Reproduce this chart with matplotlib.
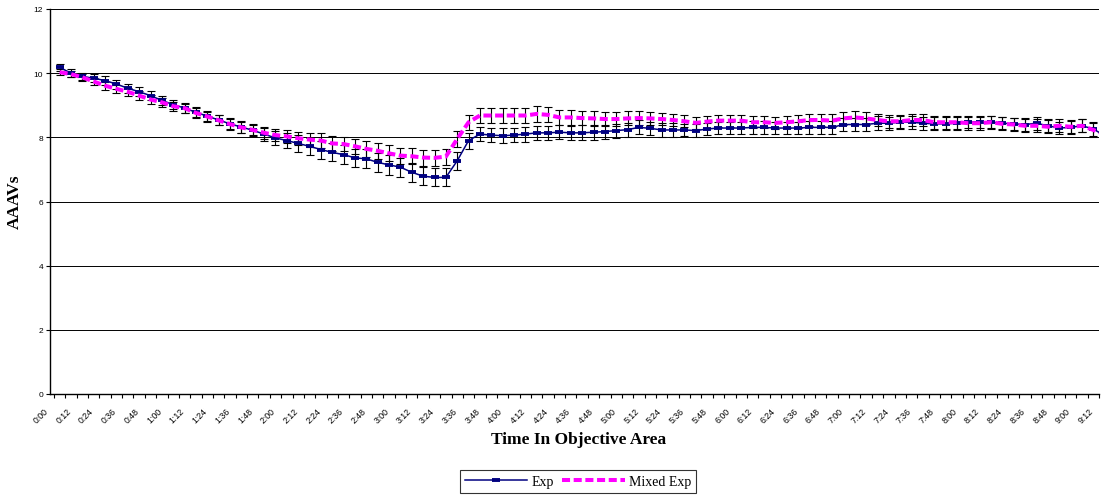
import matplotlib.pyplot as plt
import numpy as np

# AAAVs per 6-second step, 0:00 .. 9:12
exp = [10.18, 10.00, 9.90, 9.84, 9.77, 9.66, 9.53, 9.42, 9.30, 9.15,
       9.02, 8.91, 8.78, 8.66, 8.54, 8.42, 8.32, 8.22, 8.10, 7.98,
       7.90, 7.81, 7.72, 7.62, 7.53, 7.46, 7.36, 7.33, 7.22, 7.14,
       7.07, 6.91, 6.79, 6.75, 6.75, 7.27, 7.90, 8.10, 8.07, 8.05,
       8.07, 8.10, 8.14, 8.14, 8.16, 8.14, 8.14, 8.16, 8.18, 8.21,
       8.24, 8.31, 8.28, 8.23, 8.23, 8.23, 8.21, 8.26, 8.29, 8.29,
       8.29, 8.31, 8.31, 8.29, 8.29, 8.29, 8.31, 8.31, 8.31, 8.40,
       8.40, 8.40, 8.44, 8.44, 8.47, 8.47, 8.44, 8.42, 8.42, 8.44,
       8.47, 8.49, 8.47, 8.44, 8.42, 8.40, 8.44, 8.36, 8.29, 8.31,
       8.36, 8.26, 8.05]

mixed = [10.03, 9.97, 9.87, 9.74, 9.61, 9.51, 9.42, 9.30, 9.18, 9.09,
         8.97, 8.91, 8.76, 8.65, 8.53, 8.41, 8.31, 8.23, 8.14, 8.07,
         8.03, 7.97, 7.93, 7.90, 7.81, 7.79, 7.72, 7.64, 7.58, 7.50,
         7.43, 7.41, 7.37, 7.36, 7.40, 7.95, 8.47, 8.68, 8.68, 8.68,
         8.68, 8.68, 8.73, 8.70, 8.62, 8.62, 8.60, 8.59, 8.57, 8.57,
         8.59, 8.60, 8.59, 8.57, 8.54, 8.50, 8.45, 8.49, 8.52, 8.52,
         8.52, 8.47, 8.47, 8.45, 8.47, 8.50, 8.54, 8.54, 8.52, 8.59,
         8.62, 8.59, 8.54, 8.50, 8.50, 8.54, 8.54, 8.47, 8.47, 8.47,
         8.44, 8.44, 8.47, 8.42, 8.40, 8.36, 8.36, 8.33, 8.36, 8.33,
         8.36, 8.23, 8.10]

exp_err = [0.12, 0.12, 0.12, 0.13, 0.13, 0.14, 0.14, 0.14, 0.15, 0.15,
           0.15, 0.16, 0.16, 0.17, 0.17, 0.18, 0.18, 0.19, 0.20, 0.22,
           0.24, 0.26, 0.27, 0.28, 0.28, 0.29, 0.29, 0.30, 0.30, 0.30,
           0.30, 0.29, 0.28, 0.28, 0.28, 0.28, 0.25, 0.22, 0.22, 0.23,
           0.23, 0.23, 0.22, 0.22, 0.22, 0.22, 0.23, 0.23, 0.22, 0.22,
           0.22, 0.22, 0.21, 0.21, 0.21, 0.20, 0.20, 0.20, 0.20, 0.20,
           0.20, 0.20, 0.20, 0.20, 0.20, 0.20, 0.20, 0.20, 0.21, 0.21,
           0.21, 0.21, 0.21, 0.20, 0.20, 0.20, 0.20, 0.20, 0.20, 0.20,
           0.19, 0.19, 0.19, 0.19, 0.19, 0.20, 0.20, 0.20, 0.20, 0.20,
           0.20, 0.22, 0.25]

mixed_err = [0.10, 0.10, 0.11, 0.11, 0.12, 0.12, 0.13, 0.13, 0.13, 0.14,
             0.14, 0.14, 0.15, 0.15, 0.16, 0.16, 0.17, 0.17, 0.18, 0.19,
             0.20, 0.21, 0.22, 0.22, 0.23, 0.23, 0.24, 0.24, 0.24, 0.25,
             0.25, 0.25, 0.25, 0.25, 0.25, 0.25, 0.24, 0.23, 0.23, 0.23,
             0.24, 0.24, 0.24, 0.23, 0.23, 0.23, 0.23, 0.23, 0.22, 0.22,
             0.22, 0.21, 0.21, 0.20, 0.20, 0.19, 0.19, 0.19, 0.19, 0.19,
             0.19, 0.19, 0.19, 0.19, 0.19, 0.20, 0.20, 0.20, 0.20, 0.21,
             0.21, 0.21, 0.20, 0.20, 0.20, 0.20, 0.20, 0.20, 0.20, 0.20,
             0.20, 0.20, 0.20, 0.20, 0.20, 0.20, 0.20, 0.20, 0.20, 0.20,
             0.20, 0.23, 0.25]

# every second category is labelled
tick_labels = ["0:00", "0:12", "0:24", "0:36", "0:48", "1:00", "1:12", "1:24",
               "1:36", "1:48", "2:00", "2:12", "2:24", "2:36", "2:48", "3:00",
               "3:12", "3:24", "3:36", "3:48", "4:00", "4:12", "4:24", "4:36",
               "4:48", "5:00", "5:12", "5:24", "5:36", "5:48", "6:00", "6:12",
               "6:24", "6:36", "6:48", "7:00", "7:12", "7:24", "7:36", "7:48",
               "8:00", "8:12", "8:24", "8:36", "8:48", "9:00", "9:12"]

x = np.arange(len(exp))

fig = plt.figure(figsize=(11.01, 5.02), dpi=100)
ax = fig.add_axes([50 / 1101, 107 / 502, 1049 / 1101, 385 / 502])

ax.errorbar(x, exp, yerr=exp_err, fmt="none", ecolor="black",
            elinewidth=0.8, capsize=3.2, capthick=0.8, zorder=2)
ax.errorbar(x, mixed, yerr=mixed_err, fmt="none", ecolor="black",
            elinewidth=0.8, capsize=3.2, capthick=0.8, zorder=2)
ax.plot(x, exp, color="#000080", lw=1.1, marker="_", ms=5.5, mew=2.8,
        label="Exp", zorder=3)
ax.plot(x, mixed, color="#FF00FF", lw=2.9, dashes=(2.0, 0.9),
        label="Mixed Exp", zorder=4)

ax.set_xlim(-0.5, 91.5)
ax.set_ylim(0, 12)
ax.set_yticks(np.arange(0, 13, 2))
ax.yaxis.grid(True, color="black", lw=0.7)
ax.set_axisbelow(True)

# tick marks between categories, labels on every second category
ax.set_xticks(np.arange(-0.5, 92, 1))
ax.set_xticklabels([])
ax.set_xticks(np.arange(0, 93, 2) - 0.85, labels=tick_labels, minor=True)
ax.tick_params(axis="x", which="major", length=3, width=0.8, direction="out")
ax.tick_params(axis="x", which="minor", length=0, pad=13)
for lbl in ax.get_xticklabels(minor=True):
    lbl.set_rotation(45)
    lbl.set_ha("right")
    lbl.set_va("bottom")
    lbl.set_rotation_mode("anchor")
    lbl.set_fontsize(6.3)
    lbl.set_family("Liberation Sans")
ax.tick_params(axis="y", length=3, width=0.8, labelsize=6, pad=2)
for lbl in ax.get_yticklabels():
    lbl.set_family("Liberation Sans")

for s in ["top", "right"]:
    ax.spines[s].set_visible(False)
ax.spines["left"].set_linewidth(1.0)
ax.spines["bottom"].set_linewidth(1.0)

fig.text(579 / 1101, 1 - 440 / 502, "Time In Objective Area", ha="center",
         va="center", family="Liberation Serif", weight="bold", fontsize=12.5)
fig.text(15 / 1101, 1 - 202 / 502, "AAAVs", ha="center", va="center",
         rotation=90, family="Liberation Serif", weight="bold", fontsize=12.5)

leg = fig.legend(loc="lower center", bbox_to_anchor=(578 / 1101, 1 / 502),
                 ncol=2, frameon=True, fancybox=False, edgecolor="black",
                 prop={"family": "Liberation Serif", "size": 10},
                 handlelength=4.5, handletextpad=0.3, columnspacing=0.6,
                 borderpad=0.35, numpoints=1)
leg.get_frame().set_linewidth(0.8)

fig.savefig("out.png", dpi=100)
